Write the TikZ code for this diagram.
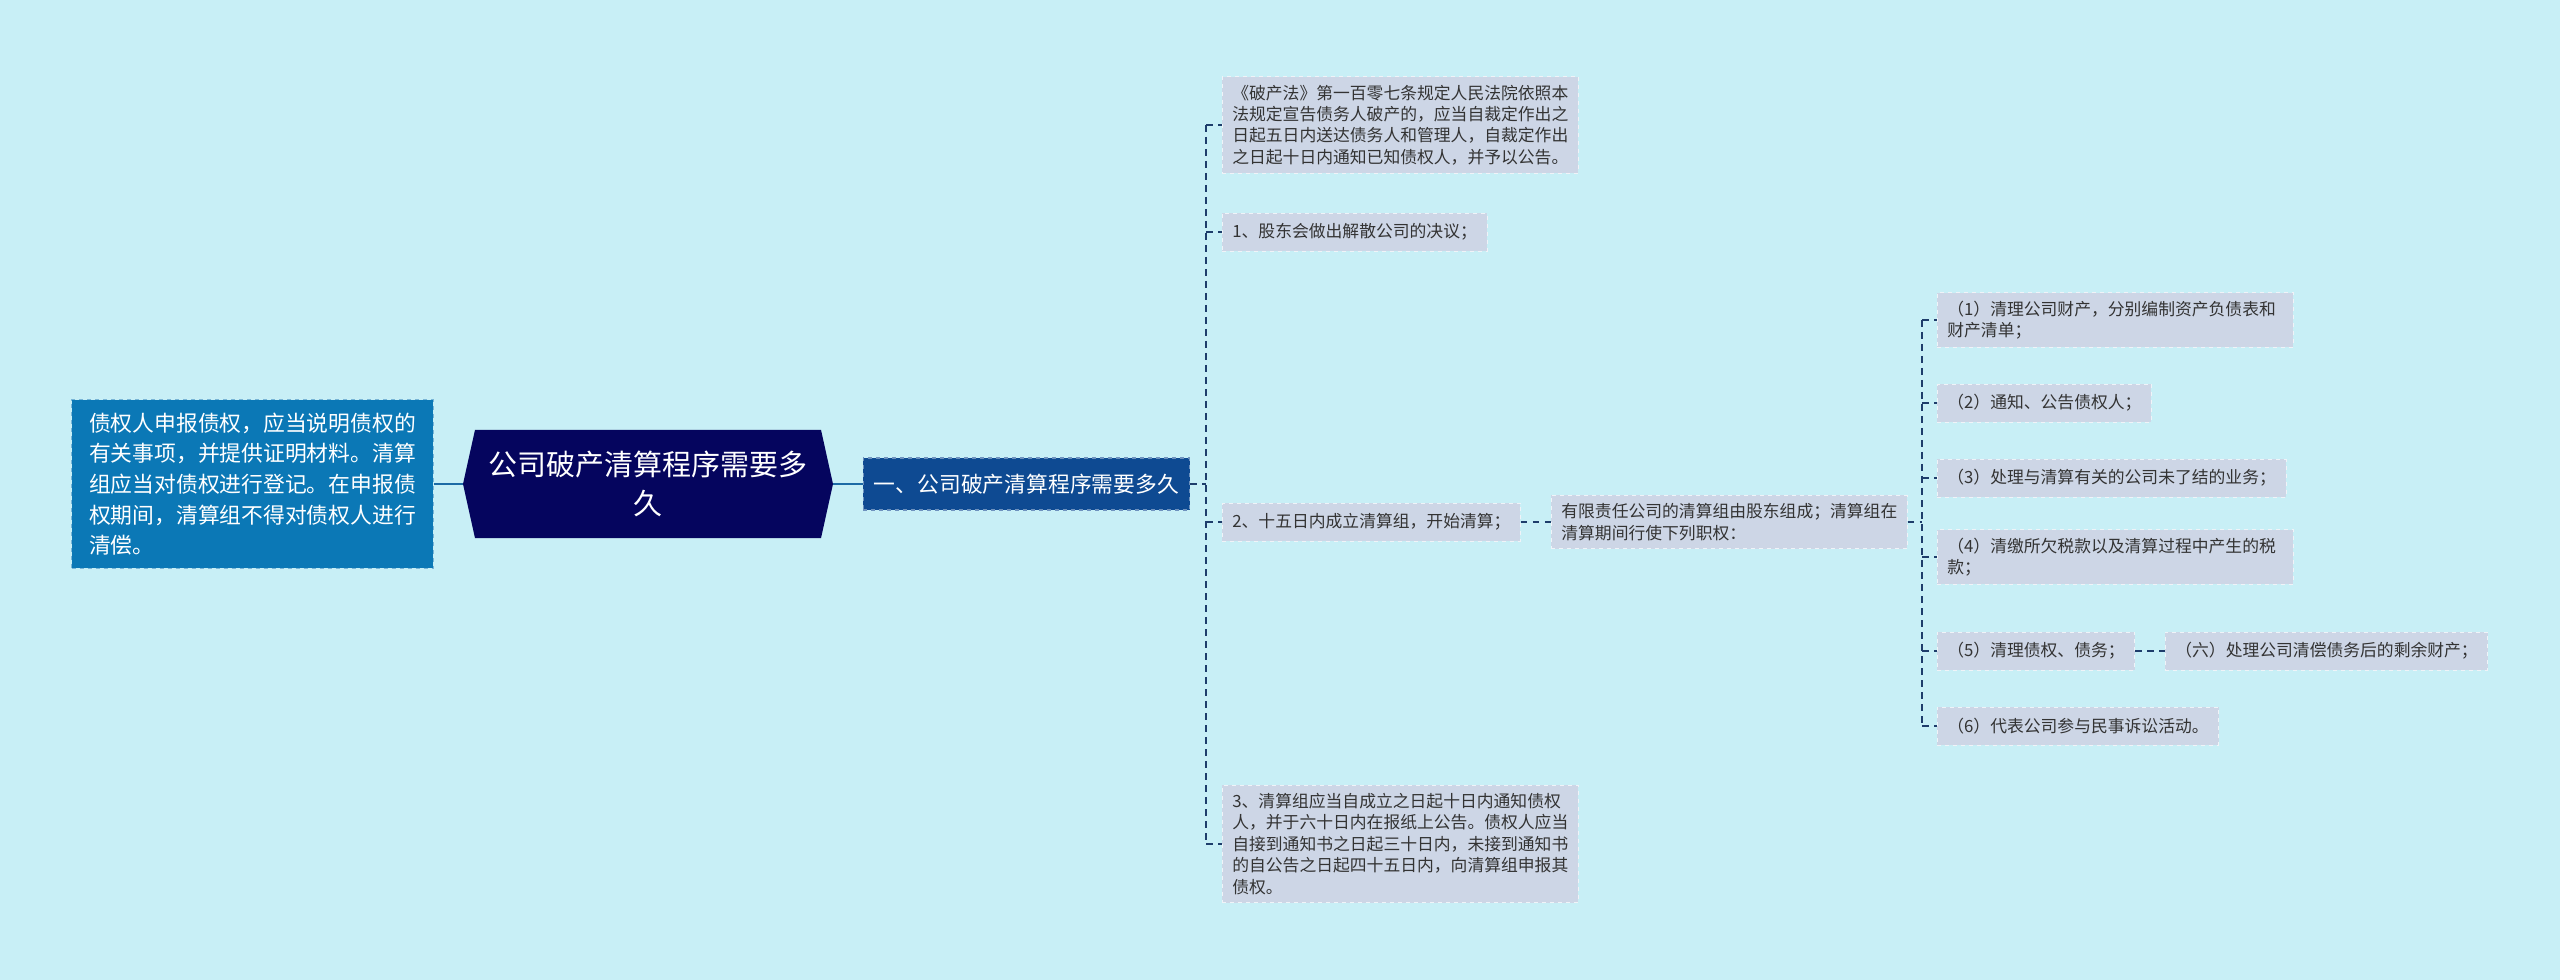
\documentclass[tikz,border=0pt]{standalone}
\usepackage{fontspec}
\setmainfont{Noto Sans CJK SC}
\usetikzlibrary{shapes.symbols}

\definecolor{bgcyan}{HTML}{C8EFF6}
\definecolor{rootnavy}{HTML}{05055E}
\definecolor{topicblue}{HTML}{0E4A92}
\definecolor{noteblue}{HTML}{0B78B6}
\definecolor{leafgray}{HTML}{CDD6E6}
\definecolor{linknavy}{HTML}{1E3D6B}
\definecolor{stemblue}{HTML}{1C6AA5}

\begin{document}
\begin{tikzpicture}[
    x=0.75pt,
    y=-0.75pt,
    rootbox/.style={
        signal,
        signal to=east and west,
        signal pointer angle=155,
        fill=rootnavy,
        text=white,
        minimum width=277.5pt,
        minimum height=81pt,
        inner sep=0pt,
        align=center,
        font=\fontsize{21.75}{29}\selectfont
    },
    topicbox/.style={
        draw=topicblue!60!white,
        dashed,
        line width=0.8pt,
        fill=topicblue,
        text=white,
        inner xsep=8pt,
        minimum height=39pt,
        font=\fontsize{16.35}{23}\selectfont
    },
    notebox/.style={
        draw=noteblue!55!white,
        dashed,
        line width=0.8pt,
        fill=noteblue,
        text=white,
        align=left,
        inner xsep=13pt,
        inner ysep=9.5pt,
        font=\fontsize{16.35}{23}\selectfont
    },
    leaf/.style={
        draw=leafgray!30!white,
        dashed,
        line width=0.5pt,
        fill=leafgray,
        text=black!80,
        anchor=west,
        align=left,
        inner xsep=7.5pt,
        inner ysep=6pt,
        minimum height=28.5pt,
        font=\fontsize{12.6}{16.1}\selectfont
    },
    wideleaf/.style={leaf, text width=252pt},
    stem/.style={draw=stemblue, line width=2pt},
    link/.style={draw=linknavy, line width=1.5pt, dash pattern=on 5pt off 4pt}
]

\useasboundingbox[fill=bgcyan] (0,0) rectangle (2560,980);

% centre and first level
\node[notebox] (note) at (252.5,484) {%
    债权人申报债权，应当说明债权的\\
    有关事项，并提供证明材料。清算\\
    组应当对债权进行登记。在申报债\\
    权期间，清算组不得对债权人进行\\
    清偿。};
\node[rootbox] (root) at (648,484) {公司破产清算程序需要多\\久};
\node[topicbox] (topic) at (1026.5,484) {一、公司破产清算程序需要多久};

\draw[stem] (note.east) -- (root.west);
\draw[stem] (root.east) -- (topic.west);

% steps
\node[wideleaf] (law) at (1222,125) {%
    《破产法》第一百零七条规定人民法院依照本\\
    法规定宣告债务人破产的，应当自裁定作出之\\
    日起五日内送达债务人和管理人，自裁定作出\\
    之日起十日内通知已知债权人，并予以公告。};
\node[leaf] (vote) at (1222,232) {1、股东会做出解散公司的决议；};
\node[leaf] (form) at (1222,522) {2、十五日内成立清算组，开始清算；};
\node[wideleaf] (claim) at (1222,844) {%
    3、清算组应当自成立之日起十日内通知债权\\
    人，并于六十日内在报纸上公告。债权人应当\\
    自接到通知书之日起三十日内，未接到通知书\\
    的自公告之日起四十五日内，向清算组申报其\\
    债权。};

\coordinate (t1) at ([xshift=12pt]topic.east);
\draw[link] (topic.east) -- (t1);
\draw[link] (t1 |- law.west) -- (t1 |- claim.west);
\foreach \n in {law,vote,form,claim}
    \draw[link] (t1 |- \n.west) -- (\n.west);

% powers of the liquidation group
\node[wideleaf] (duty) at (1551,522) {%
    有限责任公司的清算组由股东组成；清算组在\\
    清算期间行使下列职权：};
\draw[link] (form.east) -- (duty.west);

\node[wideleaf] (d1) at (1937,320) {%
    （1）清理公司财产，分别编制资产负债表和\\
    财产清单；};
\node[leaf] (d2) at (1937,403) {（2）通知、公告债权人；};
\node[leaf] (d3) at (1937,478) {（3）处理与清算有关的公司未了结的业务；};
\node[wideleaf] (d4) at (1937,557) {%
    （4）清缴所欠税款以及清算过程中产生的税\\
    款；};
\node[leaf] (d5) at (1937,651) {（5）清理债权、债务；};
\node[leaf] (d5b) at (2165,651) {（六）处理公司清偿债务后的剩余财产；};
\node[leaf] (d6) at (1937,726) {（6）代表公司参与民事诉讼活动。};

\coordinate (t2) at ([xshift=11pt]duty.east);
\draw[link] (duty.east) -- (t2);
\draw[link] (t2 |- d1.west) -- (t2 |- d6.west);
\foreach \n in {d1,d2,d3,d4,d5,d6}
    \draw[link] (t2 |- \n.west) -- (\n.west);
\draw[link] (d5.east) -- (d5b.west);

\end{tikzpicture}
\end{document}
